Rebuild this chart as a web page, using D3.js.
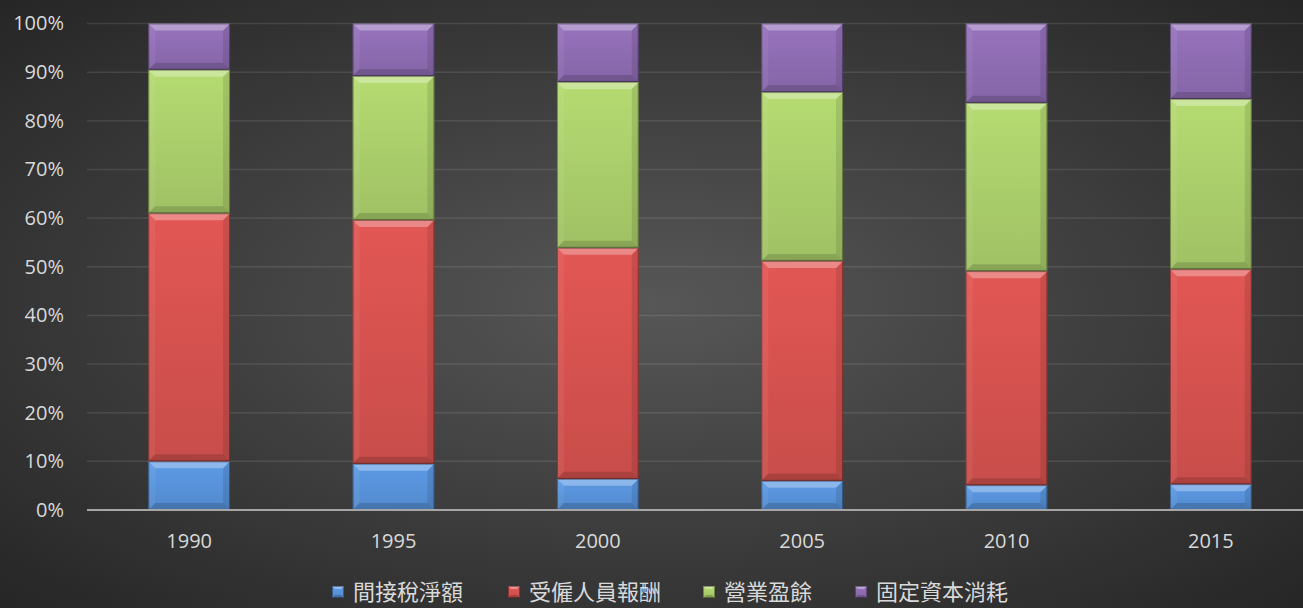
<!DOCTYPE html>
<html><head><meta charset="utf-8">
<script src="https://cdn.jsdelivr.net/npm/d3@7"></script>
<style>
html,body{margin:0;padding:0;background:#2b2b2b;}
svg{display:block;}
</style></head><body>
<svg id="chart" width="1303" height="608"></svg>
<script>
const categories = ["1990","1995","2000","2005","2010","2015"];
const seriesNames = ["間接稅淨額","受僱人員報酬","營業盈餘","固定資本消耗"];
const indirectTax = [10.0, 9.5, 6.4, 6.0, 5.1, 5.3];
const compensation = [51.0, 50.1, 47.5, 45.2, 44.0, 44.2];
const surplus = [29.5, 29.6, 34.1, 34.7, 34.6, 35.0];
const depreciation = [9.5, 10.8, 12.0, 14.1, 16.3, 15.5];
const yTicks = [0,10,20,30,40,50,60,70,80,90,100];
const colors = ["#558ed3","#cf504d","#a6c868","#8a69ad"];

const W = 1303, H = 608;
const svg = d3.select("#chart");
const defs = svg.append("defs");
const bg = defs.append("radialGradient").attr("id","bg").attr("cx","50%").attr("cy","50%").attr("r","70%");
bg.append("stop").attr("offset","0%").attr("stop-color","#575757");
bg.append("stop").attr("offset","100%").attr("stop-color","#262626");
svg.append("rect").attr("width",W).attr("height",H).attr("fill","url(#bg)");

colors.forEach((c,i)=>{
  const g = defs.append("linearGradient").attr("id","g"+i).attr("x1",0).attr("y1",0).attr("x2",0).attr("y2",1);
  g.append("stop").attr("offset","0%").attr("stop-color",d3.color(c).brighter(0.25));
  g.append("stop").attr("offset","100%").attr("stop-color",d3.color(c).darker(0.1));
});

const x = d3.scaleBand().domain(categories).range([87, 1313]).paddingInner(0.6).paddingOuter(0.3);
const y = d3.scaleLinear().domain([0,100]).range([510, 23.5]);

// gridlines
svg.append("g").selectAll("line").data(yTicks.filter(d=>d>0)).join("line")
  .attr("x1",87).attr("x2",W).attr("y1",d=>y(d)).attr("y2",d=>y(d))
  .attr("stroke","#ffffff").attr("stroke-opacity",0.1).attr("stroke-width",1.5);

// y axis labels
const yAxis = d3.axisLeft(y).tickValues(yTicks).tickFormat(d=>d+"%").tickSize(0).tickPadding(0);
const ya = svg.append("g").attr("transform","translate(64,0)").call(yAxis);
ya.select(".domain").remove();
ya.selectAll("text").attr("fill","#d9d9d9").style("font-family","'Open Sans','Noto Sans',sans-serif").style("font-size","20px");

// stack
const data = categories.map((c,i)=>({cat:c, s0:indirectTax[i], s1:compensation[i], s2:surplus[i], s3:depreciation[i]}));
const stack = d3.stack().keys(["s0","s1","s2","s3"]);
const layers = stack(data);
const bev = 7;
layers.forEach((layer,si)=>{
  const g = svg.append("g");
  layer.forEach((d,i)=>{
    const x0 = x(categories[i]), bw = x.bandwidth();
    const y0 = y(d[1]), y1 = y(d[0]), h = y1 - y0;
    const b = Math.min(bev, h/2);
    const sg = g.append("g");
    sg.append("rect").attr("x",x0).attr("y",y0).attr("width",bw).attr("height",h).attr("fill","url(#g"+si+")");
    sg.append("polygon").attr("points",[[x0,y0],[x0+bw,y0],[x0+bw-b,y0+b],[x0+b,y0+b]].join(" ")).attr("fill","#ffffff").attr("opacity",0.3);
    sg.append("polygon").attr("points",[[x0,y0],[x0+b,y0+b],[x0+b,y1-b],[x0,y1]].join(" ")).attr("fill","#ffffff").attr("opacity",0.06);
    sg.append("polygon").attr("points",[[x0+bw,y0],[x0+bw-b,y0+b],[x0+bw-b,y1-b],[x0+bw,y1]].join(" ")).attr("fill","#000000").attr("opacity",0.1);
    sg.append("polygon").attr("points",[[x0,y1],[x0+b,y1-b],[x0+bw-b,y1-b],[x0+bw,y1]].join(" ")).attr("fill","#000000").attr("opacity",0.15);
    sg.append("rect").attr("x",x0+0.5).attr("y",y0+0.5).attr("width",bw-1).attr("height",h-1).attr("fill","none").attr("stroke","#000").attr("stroke-opacity",0.35).attr("stroke-width",1);
  });
});

// x axis
svg.append("line").attr("x1",87).attr("x2",W).attr("y1",510).attr("y2",510).attr("stroke","#a6a6a6").attr("stroke-width",2);
const xAxis = d3.axisBottom(x).tickSize(0).tickPadding(0);
const xa = svg.append("g").attr("transform","translate(0,541)").call(xAxis);
xa.select(".domain").remove();
xa.selectAll("text").attr("fill","#d9d9d9").attr("dy","0.35em").style("font-family","'Open Sans','Noto Sans',sans-serif").style("font-size","20px");

// legend
const legendX = [332, 508, 703, 855];
const lg = svg.append("g").attr("transform","translate(0,592)");
seriesNames.forEach((n,i)=>{
  const gi = lg.append("g").attr("transform",`translate(${legendX[i]},0)`);
  const s = 12;
  gi.append("rect").attr("x",0).attr("y",-s/2).attr("width",s).attr("height",s).attr("fill","url(#g"+i+")");
  gi.append("polygon").attr("points",[[0,-s/2],[s,-s/2],[s-3,-s/2+3],[3,-s/2+3]].join(" ")).attr("fill","#fff").attr("opacity",0.35);
  gi.append("polygon").attr("points",[[0,s/2],[3,s/2-3],[s-3,s/2-3],[s,s/2]].join(" ")).attr("fill","#000").attr("opacity",0.2);
  gi.append("rect").attr("x",0.5).attr("y",-s/2+0.5).attr("width",s-1).attr("height",s-1).attr("fill","none").attr("stroke","#000").attr("stroke-opacity",0.35);
  gi.append("text").attr("x",s+9).attr("y",0).attr("dy","0.36em").text(n)
    .attr("fill","#d9d9d9").style("font-family","'Noto Sans CJK TC','Noto Sans CJK SC',sans-serif").style("font-size","22px");
});
</script>
</body></html>
